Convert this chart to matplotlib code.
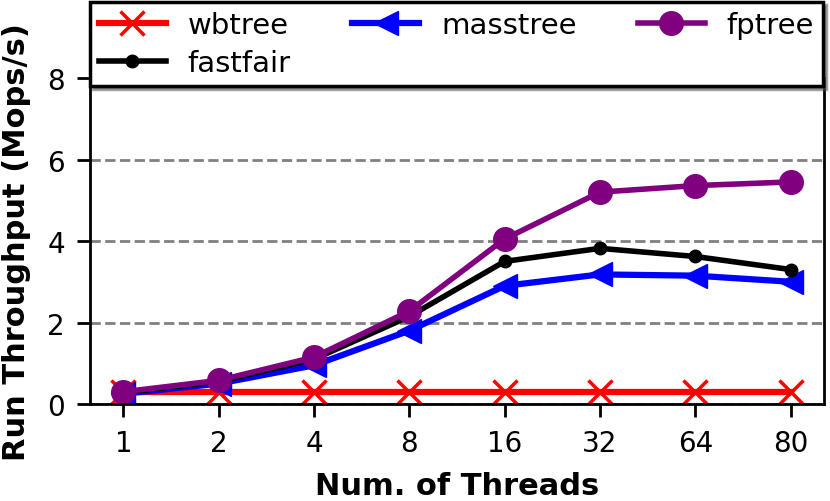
import matplotlib
matplotlib.use('Agg')
import matplotlib.pyplot as plt

plt.rcParams['font.family'] = ['DejaVu Sans']

threads = ['1', '2', '4', '8', '16', '32', '64', '80']
wbtree = [0.30, 0.30, 0.30, 0.30, 0.30, 0.30, 0.30, 0.30]
masstree = [0.25, 0.50, 0.95, 1.80, 2.90, 3.18, 3.15, 3.00]
fastfair = [0.28, 0.55, 1.10, 2.15, 3.50, 3.82, 3.62, 3.30]
fptree = [0.30, 0.58, 1.15, 2.28, 4.05, 5.20, 5.36, 5.45]

x = list(range(len(threads)))

fig = plt.figure(figsize=(8.3, 5.02), dpi=100)
ax = fig.add_axes([0.1084, 0.1932, 0.8844, 0.6494])

l1, = ax.plot(x, wbtree, color='red', marker='x', markersize=17, mew=2.5, lw=4.5, label='wbtree')
l2, = ax.plot(x, masstree, color='blue', marker='<', markersize=17, lw=4.5, label='masstree')
l4, = ax.plot(x, fastfair, color='black', marker='.', markersize=18, lw=4, label='fastfair')
l3, = ax.plot(x, fptree, color='purple', marker='o', markersize=17, lw=4, label='fptree')

ax.set_xlim(-0.35, 7.35)
ax.set_ylim(0, 8)
ax.set_xticks(x)
ax.set_xticklabels(threads)
ax.set_yticks([0, 2, 4, 6, 8])
ax.tick_params(labelsize=20, width=2, length=9.5, pad=8.5)
ax.yaxis.grid(True, linestyle='--', color='grey', lw=2)
ax.set_axisbelow(True)
for s in ['left', 'right', 'bottom']:
    ax.spines[s].set_linewidth(2)
ax.spines['top'].set_visible(False)

ax.set_xlabel('Num. of Threads', fontsize=22, fontweight='bold', labelpad=10)
ax.set_ylabel('Run Throughput (Mops/s)', fontsize=22, fontweight='bold', labelpad=12)

leg = ax.legend([l1, l4, l2, l3], ['wbtree', 'fastfair', 'masstree', 'fptree'],
                ncol=3, loc='upper center', bbox_to_anchor=(0.4993, 1.233), borderaxespad=0,
                fontsize=21, shadow=True, fancybox=False, framealpha=1,
                handlelength=2.3, columnspacing=2.1, handletextpad=0.75,
                labelspacing=0.35, borderpad=0.3)
leg.get_frame().set_edgecolor('black')
leg.get_frame().set_linewidth(2.5)

fig.savefig('out.png', dpi=100)
